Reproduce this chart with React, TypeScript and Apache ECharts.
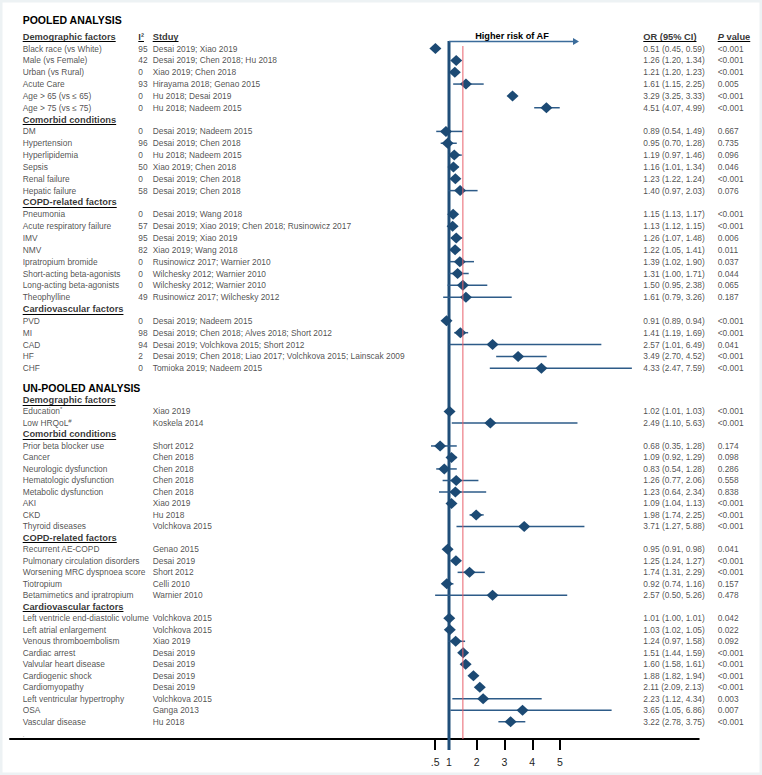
import React, { useEffect, useRef } from "react";
import * as echarts from "echarts";

// ---------- data ----------
const groupNames = ["Demographic factors", "Comorbid conditions", "COPD-related factors", "Cardiovascular factors"];

const pooledGroupSizes = [6, 6, 8, 5];
const pooledFactors = [
  "Black race (vs White)", "Male (vs Female)", "Urban (vs Rural)", "Acute Care", "Age > 65 (vs ≤ 65)", "Age > 75 (vs ≤ 75)",
  "DM", "Hypertension", "Hyperlipidemia", "Sepsis", "Renal failure", "Hepatic failure",
  "Pneumonia", "Acute respiratory failure", "IMV", "NMV", "Ipratropium bromide", "Short-acting beta-agonists", "Long-acting beta-agonists", "Theophylline",
  "PVD", "MI", "CAD", "HF", "CHF",
];
const pooledI2 = [95, 42, 0, 93, 0, 0, 0, 96, 0, 50, 0, 58, 0, 57, 95, 82, 0, 0, 0, 49, 0, 98, 94, 2, 0];
const pooledStudies = [
  "Desai 2019; Xiao 2019", "Desai 2019; Chen 2018; Hu 2018", "Xiao 2019; Chen 2018", "Hirayama 2018; Genao 2015", "Hu 2018; Desai 2019", "Hu 2018; Nadeem 2015",
  "Desai 2019; Nadeem 2015", "Desai 2019; Chen 2018", "Hu 2018; Nadeem 2015", "Xiao 2019; Chen 2018", "Desai 2019; Chen 2018", "Desai 2019; Chen 2018",
  "Desai 2019; Wang 2018", "Desai 2019; Xiao 2019; Chen 2018; Rusinowicz 2017", "Desai 2019; Xiao 2019", "Xiao 2019; Wang 2018", "Rusinowicz 2017; Warnier 2010",
  "Wilchesky 2012; Warnier 2010", "Wilchesky 2012; Warnier 2010", "Rusinowicz 2017; Wilchesky 2012",
  "Desai 2019; Nadeem 2015", "Desai 2019; Chen 2018; Alves 2018; Short 2012", "Desai 2019; Volchkova 2015; Short 2012",
  "Desai 2019; Chen 2018; Liao 2017; Volchkova 2015; Lainscak 2009", "Tomioka 2019; Nadeem 2015",
];
const pooledOR = [0.51, 1.26, 1.21, 1.61, 3.29, 4.51, 0.89, 0.95, 1.19, 1.16, 1.23, 1.40, 1.15, 1.13, 1.26, 1.22, 1.39, 1.31, 1.50, 1.61, 0.91, 1.41, 2.57, 3.49, 4.33];
const pooledLow = [0.45, 1.20, 1.20, 1.15, 3.25, 4.07, 0.54, 0.70, 0.97, 1.01, 1.22, 0.97, 1.13, 1.12, 1.07, 1.05, 1.02, 1.00, 0.95, 0.79, 0.89, 1.19, 1.01, 2.70, 2.47];
const pooledHigh = [0.59, 1.34, 1.23, 2.25, 3.33, 4.99, 1.49, 1.28, 1.46, 1.34, 1.24, 2.03, 1.17, 1.15, 1.48, 1.41, 1.90, 1.71, 2.38, 3.26, 0.94, 1.69, 6.49, 4.52, 7.59];
const pooledP = ["<0.001", "<0.001", "<0.001", "0.005", "<0.001", "<0.001", "0.667", "0.735", "0.096", "0.046", "<0.001", "0.076",
  "<0.001", "<0.001", "0.006", "0.011", "0.037", "0.044", "0.065", "0.187", "<0.001", "<0.001", "0.041", "<0.001", "<0.001"];

const unpooledGroupSizes = [2, 8, 5, 10];
const unpooledFactors = [
  "Education*", "Low HRQoL#",
  "Prior beta blocker use", "Cancer", "Neurologic dysfunction", "Hematologic dysfunction", "Metabolic dysfunction", "AKI", "CKD", "Thyroid diseases",
  "Recurrent AE-COPD", "Pulmonary circulation disorders", "Worsening MRC dyspnoea score", "Tiotropium", "Betamimetics and ipratropium",
  "Left ventricle end-diastolic volume", "Left atrial enlargement", "Venous thromboembolism", "Cardiac arrest", "Valvular heart disease",
  "Cardiogenic shock", "Cardiomyopathy", "Left ventricular hypertrophy", "OSA", "Vascular disease",
];
const unpooledStudies = [
  "Xiao 2019", "Koskela 2014", "Short 2012", "Chen 2018", "Chen 2018", "Chen 2018", "Chen 2018", "Xiao 2019", "Hu 2018", "Volchkova 2015",
  "Genao 2015", "Desai 2019", "Short 2012", "Celli 2010", "Warnier 2010", "Volchkova 2015", "Volchkova 2015", "Xiao 2019", "Desai 2019",
  "Desai 2019", "Desai 2019", "Desai 2019", "Volchkova 2015", "Ganga 2013", "Hu 2018",
];
const unpooledOR = [1.02, 2.49, 0.68, 1.09, 0.83, 1.26, 1.23, 1.09, 1.98, 3.71, 0.95, 1.25, 1.74, 0.92, 2.57, 1.01, 1.03, 1.24, 1.51, 1.60, 1.88, 2.11, 2.23, 3.65, 3.22];
const unpooledLow = [1.01, 1.10, 0.35, 0.92, 0.54, 0.77, 0.64, 1.04, 1.74, 1.27, 0.91, 1.24, 1.31, 0.74, 0.50, 1.00, 1.02, 0.97, 1.44, 1.58, 1.82, 2.09, 1.12, 1.05, 2.78];
const unpooledHigh = [1.03, 5.63, 1.28, 1.29, 1.28, 2.06, 2.34, 1.13, 2.25, 5.88, 0.98, 1.27, 2.29, 1.16, 5.26, 1.01, 1.05, 1.58, 1.59, 1.61, 1.94, 2.13, 4.34, 6.86, 3.75];
const unpooledP = ["<0.001", "<0.001", "0.174", "0.098", "0.286", "0.558", "0.838", "<0.001", "<0.001", "<0.001", "0.041", "<0.001", "<0.001",
  "0.157", "0.478", "0.042", "0.022", "0.092", "<0.001", "<0.001", "<0.001", "<0.001", "0.003", "0.007", "<0.001"];

const tickValues = [0.5, 1, 2, 3, 4, 5];
const tickLabels = [".5", "1", "2", "3", "4", "5"];
const nullValue = 1;
const refValue = 1.5;
const arrowEndValue = 5.685;

// ---------- layout / style ----------
const W = 762;
const H = 775;
const PX_AT_0 = 421.25;
const PX_PER_UNIT = 27.75;
const FONT = '"Liberation Sans", Arial, Helvetica, sans-serif';
const TXT = "#1e1e1e";
const DIAMOND = "#1c4a74";
const CI = "#2d5b88";
const NULL_LINE = "#1f4e79";
const ARROW = "#3b6c9b";
const RED = "#e8606c";
const COL_NAME = 22.7;
const COL_I2 = 138.3;
const COL_STUDY = 152.7;
const COL_OR = 643.3;
const COL_P = 717.7;
const FS = 8.4;
const FS_HEAD = 9.3;

type Row = {
  kind: "header" | "data"; row: number; text: string;
  i2?: string; study?: string; or?: number; lo?: number; hi?: number; p?: string;
};

function buildRows(sizes: number[], factors: string[], i2: number[] | null, studies: string[], or: number[], lo: number[], hi: number[], p: string[]): Row[] {
  const rows: Row[] = [];
  let r = 0;
  let idx = 0;
  sizes.forEach((n, g) => {
    rows.push({ kind: "header", row: r++, text: groupNames[g] });
    for (let j = 0; j < n; j++, idx++) {
      rows.push({
        kind: "data", row: r++, text: factors[idx], i2: i2 ? String(i2[idx]) : "", study: studies[idx],
        or: or[idx], lo: lo[idx], hi: hi[idx], p: p[idx],
      });
    }
  });
  return rows;
}

function measure(text: string, font: string): number {
  const c = document.createElement("canvas").getContext("2d");
  if (!c) return text.length * 5;
  c.font = font;
  return c.measureText(text).width;
}

function buildOption() {
  const pooledRows = buildRows(pooledGroupSizes, pooledFactors, pooledI2, pooledStudies, pooledOR, pooledLow, pooledHigh, pooledP);
  const unpooledRows = buildRows(unpooledGroupSizes, unpooledFactors, null, unpooledStudies, unpooledOR, unpooledLow, unpooledHigh, unpooledP);
  const sections = [
    { rows: pooledRows, top: 30.78, band: 11.84, colHeads: true },
    { rows: unpooledRows, top: 394.255, band: 11.49, colHeads: false },
  ];
  const headFont = `bold ${FS_HEAD}px "Liberation Sans"`;

  const grids: any[] = [];
  const xAxes: any[] = [];
  const yAxes: any[] = [];
  const series: any[] = [];

  const fmt = (v: number) => v.toFixed(2);

  sections.forEach((sec, g) => {
    grids.push({ left: 0, right: 0, top: sec.top, height: sec.band * sec.rows.length, outerBoundsMode: "none" });
    xAxes.push({ type: "value", gridIndex: g, min: -PX_AT_0 / PX_PER_UNIT, max: (W - PX_AT_0) / PX_PER_UNIT, show: false });
    xAxes.push({ type: "value", gridIndex: g, min: 0, max: W, show: false });
    yAxes.push({ type: "category", gridIndex: g, inverse: true, show: false, data: sec.rows.map((r) => String(r.row)) });

    const orAx = 2 * g;
    const pxAx = 2 * g + 1;
    const dataRows = sec.rows.filter((r) => r.kind === "data");

    // confidence intervals
    series.push({
      type: "custom", xAxisIndex: orAx, yAxisIndex: g, silent: true, z: 3,
      encode: { x: [0, 1], y: 2 },
      data: dataRows.map((r) => [r.lo, r.hi, r.row]),
      renderItem: (params: any, api: any) => {
        const a = api.coord([api.value(0), api.value(2)]);
        const b = api.coord([api.value(1), api.value(2)]);
        return { type: "line", shape: { x1: a[0], y1: a[1], x2: b[0], y2: b[1] }, style: { stroke: CI, lineWidth: 1.5 } };
      },
    });
    // point estimates
    series.push({
      type: "scatter", xAxisIndex: orAx, yAxisIndex: g, silent: true, z: 4,
      symbol: "diamond", symbolSize: [12, 11],
      itemStyle: { color: DIAMOND, opacity: 1 },
      data: dataRows.map((r) => [r.or, r.row]),
    });

    // texts
    const items: { x: number; row: number; text: string }[] = [];
    dataRows.forEach((r) => {
      items.push({ x: COL_NAME, row: r.row, text: r.text });
      if (r.i2) items.push({ x: COL_I2, row: r.row, text: r.i2 });
      items.push({ x: COL_STUDY, row: r.row, text: r.study! });
      items.push({ x: COL_OR, row: r.row, text: `${fmt(r.or!)} (${fmt(r.lo!)}, ${fmt(r.hi!)})` });
      items.push({ x: COL_P, row: r.row, text: r.p! });
    });
    series.push({
      type: "scatter", xAxisIndex: pxAx, yAxisIndex: g, silent: true, z: 6,
      symbolSize: 1, itemStyle: { color: "rgba(0,0,0,0)" },
      data: items.map((it) => ({ name: it.text, value: [it.x, it.row] })),
      label: {
        show: true, position: "inside", align: "left", verticalAlign: "middle",
        color: TXT, fontFamily: FONT, fontSize: FS,
        formatter: (p: any) => {
          const m = /^(.*?)([*#])$/.exec(p.name);
          return m ? `{n|${m[1]}}{s|${m[2]}}` : p.name;
        },
        rich: {
          n: { color: TXT, fontFamily: FONT, fontSize: FS },
          s: { color: TXT, fontFamily: FONT, fontSize: 6, verticalAlign: "top", padding: [0, 0, 4, 0] },
        },
      },
    });

    const heads: { x: number; row: number; text: string; width: number }[] = [];
    sec.rows.filter((r) => r.kind === "header").forEach((r) => {
      heads.push({ x: COL_NAME, row: r.row, text: r.text, width: measure(r.text, headFont) });
    });
    if (sec.colHeads) {
      heads.push({ x: COL_I2, row: 0, text: "I²", width: measure("I²", headFont) });
      heads.push({ x: COL_STUDY, row: 0, text: "Stduy", width: measure("Stduy", headFont) });
      heads.push({ x: COL_OR, row: 0, text: "OR (95% CI)", width: measure("OR (95% CI)", headFont) });
      heads.push({ x: COL_P, row: 0, text: "P value", width: measure("P value", headFont) });
    }
    series.push({
      type: "scatter", xAxisIndex: pxAx, yAxisIndex: g, silent: true, z: 6,
      symbolSize: 1, itemStyle: { color: "rgba(0,0,0,0)" },
      data: heads.map((it) => ({ name: it.text, value: [it.x, it.row] })),
      label: {
        show: true, position: "inside", align: "left", verticalAlign: "middle",
        color: "#000", fontFamily: FONT, fontSize: FS_HEAD, fontWeight: "bold",
        formatter: (p: any) => (p.name === "P value" ? "{i|P}{b| value}" : p.name),
        rich: {
          i: { color: "#000", fontFamily: FONT, fontSize: FS_HEAD, fontWeight: "bold", fontStyle: "italic" },
          b: { color: "#000", fontFamily: FONT, fontSize: FS_HEAD, fontWeight: "bold" },
        },
      },
    });
    // underlines
    series.push({
      type: "custom", xAxisIndex: pxAx, yAxisIndex: g, silent: true, z: 6,
      encode: { x: 0, y: 1 },
      data: heads.map((h) => [h.x, h.row, h.width]),
      renderItem: (params: any, api: any) => {
        const a = api.coord([api.value(0), api.value(1)]);
        const y = Math.round(a[1] + 4.6) + 0.5;
        return { type: "line", shape: { x1: a[0], y1: y, x2: a[0] + api.value(2), y2: y }, style: { stroke: "#000", lineWidth: 1 } };
      },
    });
  });

  // axis grid
  const axLeft = 10;
  const axRight = 698.75;
  grids.push({ left: axLeft, right: W - axRight, top: 41, bottom: H - 739, outerBoundsMode: "none" });
  xAxes.push({
    type: "value", gridIndex: 2, position: "bottom",
    min: (axLeft - PX_AT_0) / PX_PER_UNIT, max: (axRight - PX_AT_0) / PX_PER_UNIT,
    axisLine: { show: true, onZero: false, lineStyle: { color: "#000", width: 2 } },
    axisTick: { show: true, inside: false, length: 11, customValues: tickValues, lineStyle: { color: "#000", width: 2 } },
    axisLabel: {
      show: true, customValues: tickValues, margin: 17, color: TXT, fontFamily: FONT, fontSize: 10.5,
      formatter: (v: number) => {
        const i = tickValues.findIndex((t) => Math.abs(t - v) < 1e-9);
        return i >= 0 ? tickLabels[i] : "";
      },
    },
    splitLine: { show: false },
  });
  yAxes.push({ type: "value", gridIndex: 2, min: 0, max: 1, show: false });

  // null line (below marks)
  series.push({
    type: "custom", xAxisIndex: 4, yAxisIndex: 2, silent: true, z: 1,
    encode: { x: 0 },
    data: [[nullValue]],
    renderItem: (params: any, api: any) => {
      const cs = params.coordSys;
      const x = api.coord([api.value(0), 0])[0];
      return { type: "line", shape: { x1: x, y1: cs.y, x2: x, y2: cs.y + cs.height + 11 }, style: { stroke: NULL_LINE, lineWidth: 3 } };
    },
  });
  // reference line + arrow (on top)
  series.push({
    type: "custom", xAxisIndex: 4, yAxisIndex: 2, silent: true, z: 8,
    encode: { x: [0, 1, 2] },
    data: [[refValue, nullValue, arrowEndValue]],
    renderItem: (params: any, api: any) => {
      const cs = params.coordSys;
      const xr = api.coord([api.value(0), 0])[0];
      const xn = api.coord([api.value(1), 0])[0];
      const xa = api.coord([api.value(2), 0])[0];
      const top = cs.y;
      return {
        type: "group",
        children: [
          { type: "line", shape: { x1: xr, y1: top + 5, x2: xr, y2: cs.y + cs.height }, style: { stroke: RED, lineWidth: 1 } },
          { type: "line", shape: { x1: xn, y1: top + 0.5, x2: xa - 5, y2: top + 0.5 }, style: { stroke: ARROW, lineWidth: 1.3 } },
          { type: "polygon", shape: { points: [[xa, top + 0.5], [xa - 6, top - 3], [xa - 6, top + 4]] }, style: { fill: ARROW } },
          {
            type: "text", x: (xn + xa) / 2 - 2, y: top - 5,
            style: { text: "Higher risk of AF", fill: "#000", font: `bold 9.2px ${FONT}`, align: "center", verticalAlign: "middle" },
          },
        ],
      };
    },
  });

  return {
    animation: false,
    backgroundColor: "#ffffff",
    grid: grids,
    xAxis: xAxes,
    yAxis: yAxes,
    series,
    graphic: [
      { type: "rect", silent: true, z: 100, shape: { x: 0, y: 0, width: W, height: H }, style: { fill: "none", stroke: "#edf2f4", lineWidth: 5 } },
      { type: "text", x: COL_NAME, y: 20, silent: true, style: { text: "POOLED ANALYSIS", fill: "#000", font: `bold 10.5px ${FONT}`, verticalAlign: "middle" } },
      { type: "text", x: COL_NAME, y: 388.3, silent: true, style: { text: "UN-POOLED ANALYSIS", fill: "#000", font: `bold 10.5px ${FONT}`, verticalAlign: "middle" } },
      { type: "text", x: COL_NAME, y: 735, silent: true, style: { text: ".", fill: "#666", font: `6px ${FONT}`, verticalAlign: "middle" } },
    ],
  };
}

export default function App() {
  const ref = useRef<HTMLDivElement>(null);
  useEffect(() => {
    if (!ref.current) return;
    const chart = echarts.init(ref.current, null, { renderer: "svg", width: W, height: H });
    chart.setOption(buildOption() as any);
    return () => chart.dispose();
  }, []);
  return <div ref={ref} style={{ position: "fixed", left: 0, top: 0, width: W, height: H, background: "#fff" }} />;
}
